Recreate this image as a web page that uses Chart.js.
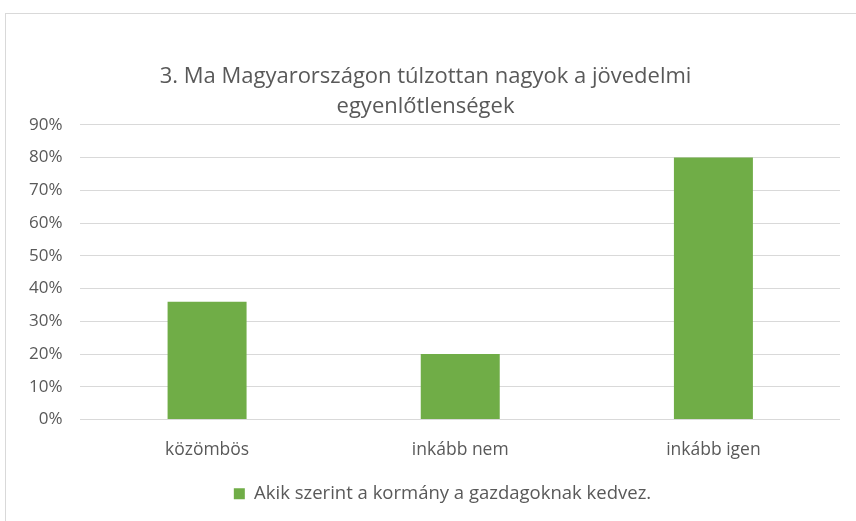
<!DOCTYPE html>
<html>
<head>
<meta charset="utf-8">
<script src="https://cdn.jsdelivr.net/npm/chart.js@4.4.0/dist/chart.umd.min.js"></script>
<style>
    html, body { margin: 0; padding: 0; background: #fff; }
    #wrap { position: relative; width: 856px; height: 521px; overflow: hidden; }
    #frame { position: absolute; left: 5px; top: 13px; width: 900px; height: 600px; border: 1px solid #d9d9d9; box-sizing: border-box; }
    canvas { position: absolute; left: 0; top: 0; }
</style>
</head>
<body>
<div id="wrap">
    <div id="frame"></div>
    <canvas id="chart" width="856" height="521"></canvas>
</div>
<script>
const titleLines = ['3. Ma Magyarországon túlzottan nagyok a jövedelmi', 'egyenlőtlenségek'];
const categories = ['közömbös', 'inkább nem', 'inkább igen'];
const seriesName = 'Akik szerint a kormány a gazdagoknak kedvez.';
const values = [0.36, 0.20, 0.80];

const textColor = '#595959';
const fontFamily = '"Open Sans", "Noto Sans", sans-serif';

// the legend sits a bit right of centre in the original
const legendShift = {
    id: 'legendShift',
    afterLayout(chart) {
        if (!chart.legend) return;
        chart.legend.left += 17;
        chart.legend.right += 17;
    }
};

new Chart(document.getElementById('chart').getContext('2d'), {
    type: 'bar',
    data: {
        labels: categories,
        datasets: [{
            label: seriesName,
            data: values,
            backgroundColor: '#70ad47',
            borderWidth: 0,
            barPercentage: 1,
            categoryPercentage: 0.312
        }]
    },
    options: {
        responsive: false,
        animation: false,
        devicePixelRatio: 1,
        layout: { padding: { left: 11, right: 16, top: 62, bottom: 8 } },
        scales: {
            y: {
                min: 0,
                max: 0.9,
                ticks: {
                    stepSize: 0.1,
                    padding: 18,
                    color: textColor,
                    font: { family: fontFamily, size: 17 },
                    callback: v => Math.round(v * 100) + '%'
                },
                grid: { color: '#d9d9d9', lineWidth: 1, drawTicks: false },
                border: { display: false }
            },
            x: {
                ticks: { color: textColor, padding: 20, font: { family: fontFamily, size: 17.5 } },
                grid: { display: false, drawTicks: false },
                border: { display: false }
            }
        },
        plugins: {
            title: {
                display: true,
                text: titleLines,
                color: textColor,
                font: { family: fontFamily, size: 22, weight: 'normal', lineHeight: 1.36 },
                padding: { top: 0, bottom: 3 }
            },
            legend: {
                position: 'bottom',
                labels: {
                    color: textColor,
                    boxWidth: 11,
                    boxHeight: 11,
                    padding: 4,
                    font: { family: fontFamily, size: 18.5 }
                }
            },
            tooltip: { enabled: false }
        }
    },
    plugins: [legendShift]
});
</script>
</body>
</html>
